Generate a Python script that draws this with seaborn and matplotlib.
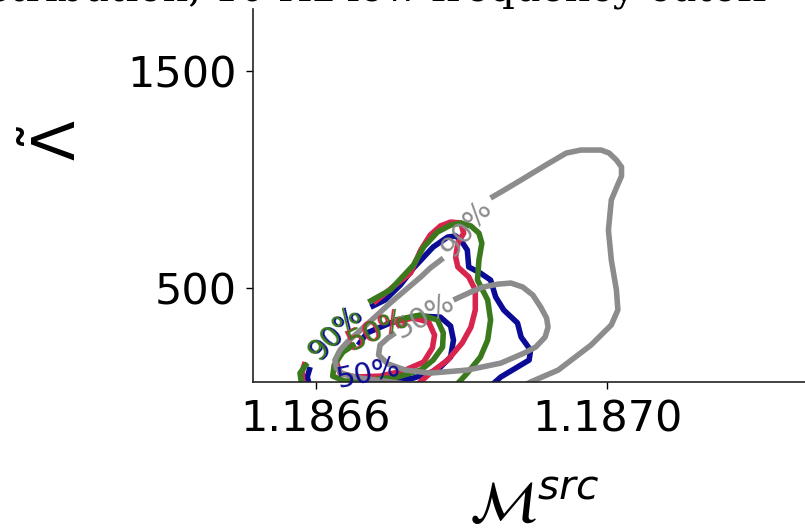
import matplotlib
matplotlib.use("Agg")
import matplotlib.pyplot as plt
import seaborn as sns

sns.set_style("ticks")
plt.rcParams["font.family"] = ["DejaVu Sans"]
plt.rcParams["text.color"] = "black"
plt.rcParams["axes.labelcolor"] = "black"

# ---------------- data: contour outlines (Mc_src, Lambda_tilde) ----------------
# gray 90% contour (two pieces, split by inline label)
gray90_a_mc = [1.186840, 1.186854, 1.186882, 1.186916, 1.186944, 1.186964, 1.186992, 1.187003,
               1.187013, 1.187020, 1.187020, 1.187014, 1.187006, 1.187002, 1.187006, 1.187013,
               1.187015, 1.187006, 1.186978, 1.186933, 1.186895, 1.186875]
gray90_a_lam = [915, 942, 998, 1067, 1122, 1136, 1136, 1122, 1090, 1058, 1016, 970, 906, 767, 629,
                491, 399, 330, 237, 122, 67, 30]
gray90_b_mc = [1.186775, 1.186757, 1.186744, 1.186723, 1.186702, 1.186681, 1.186657, 1.186643,
               1.186633, 1.186626, 1.186628, 1.186637, 1.186661, 1.186695, 1.186744]
gray90_b_lam = [638, 592, 551, 491, 431, 366, 293, 251, 214, 168, 131, 104, 85, 71, 48]

# gray 50% contour
gray50_mc = [1.186789, 1.186813, 1.186830, 1.186850, 1.186868, 1.186884, 1.186898, 1.186909,
             1.186917, 1.186919, 1.186915, 1.186902, 1.186886, 1.186854, 1.186808, 1.186757,
             1.186723, 1.186699, 1.186686, 1.186688, 1.186699, 1.186709]
gray50_lam = [445, 482, 505, 518, 523, 505, 468, 412, 362, 320, 274, 228, 200, 154, 122, 108,
              122, 150, 191, 237, 270, 293]

# green 90%
green90_a_mc = [1.186581, 1.186578, 1.186588]
green90_a_lam = [39, 108, 154]
green90_b_mc = [1.186672, 1.186702, 1.186734, 1.186748, 1.186767, 1.186785, 1.186799, 1.186813,
                1.186824, 1.186828, 1.186824, 1.186822, 1.186836, 1.186840, 1.186836, 1.186826,
                1.186808, 1.186789]
green90_b_lam = [435, 491, 606, 689, 758, 790, 800, 786, 753, 707, 629, 537, 445, 353, 260, 182,
                 108, 39]

# red 90%
red90_a_mc = [1.186582, 1.186581, 1.186585]
red90_a_lam = [39, 113, 159]
red90_b_mc = [1.186679, 1.186709, 1.186730, 1.186744, 1.186757, 1.186771, 1.186785, 1.186799,
              1.186803, 1.186795, 1.186792, 1.186795, 1.186810, 1.186819, 1.186819, 1.186813,
              1.186801, 1.186781, 1.186757, 1.186734]
red90_b_lam = [431, 514, 569, 675, 744, 786, 804, 800, 753, 707, 643, 597, 551, 491, 399, 320,
               247, 168, 108, 39]

# blue 90%
blue90_a_mc = [1.186592, 1.186588, 1.186592]
blue90_a_lam = [39, 90, 136]
blue90_b_mc = [1.186675, 1.186695, 1.186716, 1.186734, 1.186761, 1.186781, 1.186792, 1.186799,
               1.186808, 1.186810, 1.186826, 1.186840, 1.186847, 1.186858, 1.186877, 1.186882,
               1.186895, 1.186893, 1.186877, 1.186854, 1.186837]
blue90_b_lam = [412, 445, 514, 592, 689, 735, 740, 721, 675, 597, 569, 537, 459, 399, 339, 274,
                214, 168, 136, 90, 39]

# 50% contours of the coloured runs
red50_mc = [1.186705, 1.186734, 1.186755, 1.186763, 1.186760, 1.186748, 1.186720, 1.186688,
            1.186654, 1.186633, 1.186628, 1.186636, 1.186650]
red50_lam = [343, 362, 343, 283, 224, 159, 118, 94, 90, 108, 159, 214, 251]
green50_mc = [1.186709, 1.186744, 1.186767, 1.186775, 1.186774, 1.186761, 1.186744, 1.186712,
              1.186675, 1.186640, 1.186623, 1.186625, 1.186637, 1.186654]
green50_lam = [353, 376, 353, 293, 228, 168, 122, 90, 76, 71, 94, 145, 205, 242]
blue50_mc = [1.186658, 1.186670, 1.186702, 1.186739, 1.186771, 1.186785, 1.186789, 1.186785,
             1.186767, 1.186734, 1.186702, 1.186675]
blue50_lam = [237, 293, 339, 371, 366, 325, 260, 182, 122, 85, 67, 48]

x_ticks = [1.1866, 1.1870]
x_tick_labels = ["1.1866", "1.1870"]
y_ticks = [500, 1500]
y_tick_labels = ["500", "1500"]

# ---------------- styling ----------------
C_GRAY = "#8c8c8c"
C_BLUE = "#0b0b96"
C_RED = "#d8254d"
C_GREEN = "#3a7a1c"
LW = 4.0

fig = plt.figure(figsize=(8.05, 5.29), dpi=100)
ax = fig.add_axes([253 / 805, (529 - 382) / 529, (807 - 253) / 805, (382 - 9) / 529])


def seg(xs, ys, color):
    sns.lineplot(x=xs, y=ys, sort=False, estimator=None, ax=ax, color=color,
                 linewidth=LW, solid_capstyle="butt", legend=False)


for xs, ys in [(blue90_a_mc, blue90_a_lam), (blue90_b_mc, blue90_b_lam), (blue50_mc, blue50_lam)]:
    seg(xs, ys, C_BLUE)
for xs, ys in [(red90_a_mc, red90_a_lam), (red90_b_mc, red90_b_lam), (red50_mc, red50_lam)]:
    seg(xs, ys, C_RED)
for xs, ys in [(green90_a_mc, green90_a_lam), (green90_b_mc, green90_b_lam), (green50_mc, green50_lam)]:
    seg(xs, ys, C_GREEN)
for xs, ys in [(gray90_a_mc, gray90_a_lam), (gray90_b_mc, gray90_b_lam), (gray50_mc, gray50_lam)]:
    seg(xs, ys, C_GRAY)

# inline contour labels
LFS = 21
label_specs = [
    ("90%", 1.186807, 776, 52, C_GRAY),
    ("50%", 1.186749, 371, 30, C_GRAY),
    ("90%", 1.186628, 291, 46, C_BLUE),
    ("90%", 1.186626, 293, 46, C_GREEN),
    ("50%", 1.186684, 306, 25, C_RED),
    ("50%", 1.186686, 304, 25, C_GREEN),
    ("50%", 1.186672, 108, 12, C_BLUE),
]
for txt, x, y, rot, col in label_specs:
    ax.text(x, y, txt, color=col, fontsize=LFS, rotation=rot, rotation_mode="anchor",
            ha="center", va="center")

ax.set_xlim(1.1865134, 1.187275)
ax.set_ylim(67, 1786)
ax.set_xticks(x_ticks)
ax.set_xticklabels(x_tick_labels)
ax.set_yticks(y_ticks)
ax.set_yticklabels(y_tick_labels)
ax.tick_params(axis="both", labelsize=31, length=5, width=1.0, pad=7, colors="black")

for s in ["left", "bottom", "right"]:
    ax.spines[s].set_linewidth(1.2)
    ax.spines[s].set_color("#222222")
ax.spines["top"].set_visible(False)

ax.set_xlabel(r"$\mathcal{M}^{src}$", fontsize=42, color="black")
ax.xaxis.set_label_coords(0.507, -0.254)
ax.set_ylabel(r"$\tilde{\Lambda}$", fontsize=42, color="black")
ax.yaxis.set_label_coords(-0.298, 0.649)

fig.text(767 / 805, 1 - 2 / 529, "Uniform distribution, 10 Hz low frequency cutoff",
         ha="right", va="baseline", fontsize=29, family="DejaVu Serif", color="black")

fig.savefig("out.png", dpi=100)
